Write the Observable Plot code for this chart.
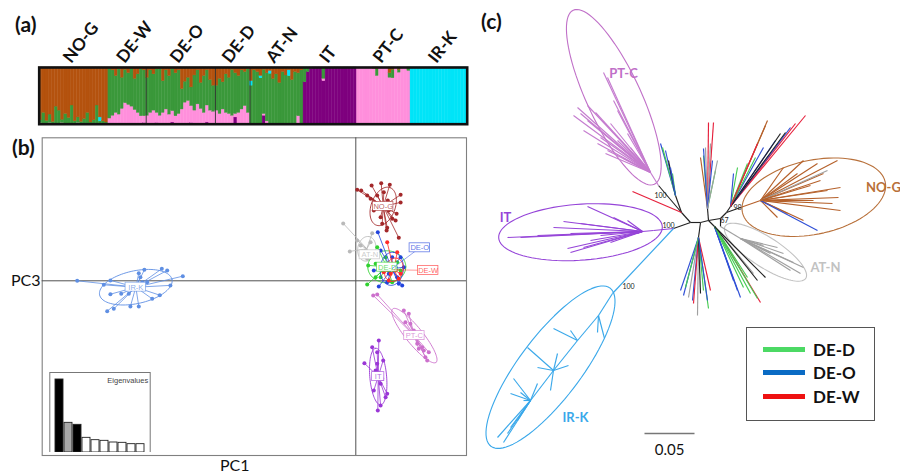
<!DOCTYPE html>
<html><head><meta charset="utf-8">
<script src="https://cdn.jsdelivr.net/npm/d3@7"></script>
<script src="https://cdn.jsdelivr.net/npm/@observablehq/plot@0.6"></script>
<style>
body{margin:0;background:#fff;font-family:Lato,"Open Sans",sans-serif;}
#fig{position:relative;width:900px;height:475px;overflow:hidden;background:#fff;}
.pl{position:absolute;}
.tag{position:absolute;font-weight:700;font-size:21px;color:#111;line-height:1;}
.ax{position:absolute;font-size:16px;color:#111;line-height:1;}
#legend{position:absolute;left:746px;top:327px;width:127px;height:92px;border:1.6px solid #555;background:#fff;}
.lrow{position:absolute;left:16px;height:20px;display:flex;align-items:center;}
.lsw{width:42px;height:5px;margin-right:8px;}
.ltx{font-weight:700;font-size:17px;color:#111;}
</style></head><body><div id="fig"></div>
<script>
// ---------------- (a) STRUCTURE-like ancestry data ----------------
const structGroups = ["NO-G","DE-W","DE-O","DE-D","AT-N","IT","PT-C","IR-K"];
const structCounts = [22,12,22,11,17,17,17,18];
const structMain   = ["brown","green","green","green","green","purple","pink","cyan"];
const clusterOrder = ["purple","pink","green","cyan","brown"]; // bottom -> top
const clusterColor = {purple:"#7e007e", pink:"#ff8fdc", green:"#3a983a", cyan:"#00e4f8", brown:"#b4520e"};

const nogGreen = [0.05,0.2,0.05,0.15,0.04,0.3,0.24,0.06,0.18,0.1,0.33,0.05,0.1,0.04,0.08,0.2,0.03,0.06,0.33,0.05,0.04,0.03];
const nogPink  = [0.02,0,0.01,0.02,0,0.01,0,0.02,0,0.01,0,0,0.02,0,0.01,0,0,0.01,0,0,0.01,0];
const nogCyan  = [0,0,0,0,0,0,0,0,0,0,0,0,0,0,0,0,0,0,0,0.07,0,0];
const dewPink  = [0.1,0.14,0.2,0.17,0.26,0.37,0.34,0.3,0.25,0.2,0.14,0.12];
const dewBrown = [0.02,0.05,0.15,0.03,0.18,0.04,0.1,0.02,0.2,0.12,0.03,0.05];
const dewPurple= [0,0.01,0,0,0.01,0,0,0.01,0,0,0,0.02];
const deoPink  = [0.15,0.2,0.24,0.18,0.15,0.2,0.26,0.17,0.2,0.14,0.18,0.26,0.38,0.41,0.3,0.24,0.35,0.27,0.2,0.3,0.24,0.22];
const deoBrown = [0.18,0.05,0.12,0.03,0.02,0.24,0.05,0.15,0.03,0.1,0.05,0.38,0.25,0.18,0.35,0.14,0.05,0.27,0.15,0.05,0.22,0.32];
const deoPurple= [0,0,0,0.02,0,0,0,0,0.03,0,0,0,0,0,0.02,0,0,0,0,0.03,0,0];
const dedPink  = [0.24,0.18,0.26,0.2,0.18,0.15,0.06,0.2,0.26,0.32,0.2];
const dedBrown = [0.32,0.2,0.26,0.12,0.18,0.04,0.1,0.15,0.05,0.08,0.03];
const dedPurple= [0,0,0,0,0,0,0.12,0,0,0,0];
const atnBrown = [0.24,0.05,0.08,0.15,0.04,0.1,0.06,0.2,0.12,0.27,0.08,0.14,0.05,0.22,0.08,0.1,0.05];
const atnCyan  = [0.08,0,0,0.04,0,0,0.05,0,0,0,0,0,0.1,0,0,0,0];
const atnPink  = [0,0,0,0,0.03,0.05,0,0,0,0,0,0,0,0,0,0.14,0];
const atnPurple= [0,0,0,0,0.15,0,0,0,0,0,0,0,0,0,0,0,0];
const itGreen  = [0.26,0.08,0.02,0,0,0,0.2,0,0,0,0,0,0,0,0,0,0];
const itPink   = [0,0,0,0,0,0,0.04,0,0,0,0,0,0,0,0,0,0];
const itBrown  = [0,0,0,0,0,0,0,0.01,0,0.01,0,0,0.01,0,0,0.01,0];
const ptcGreen = [0,0,0,0,0,0,0.12,0,0,0,0.08,0.15,0,0.05,0,0,0.06];
const ptcBrown = [0,0,0,0,0,0.02,0.03,0,0,0,0.1,0.04,0,0.04,0,0,0];

const structMinor = {
  "NO-G": {green: nogGreen, pink: nogPink, cyan: nogCyan},
  "DE-W": {pink: dewPink, brown: dewBrown, purple: dewPurple},
  "DE-O": {pink: deoPink, brown: deoBrown, purple: deoPurple},
  "DE-D": {pink: dedPink, brown: dedBrown, purple: dedPurple},
  "AT-N": {brown: atnBrown, cyan: atnCyan, pink: atnPink, purple: atnPurple},
  "IT":   {green: itGreen, pink: itPink, brown: itBrown},
  "PT-C": {green: ptcGreen, brown: ptcBrown},
  "IR-K": {}
};

// ---------------- (b) PCA data (PC1, PC3) ----------------
const pcaGroups  = ["IR-K","NO-G","AT-N","DE-D","DE-O","DE-W","PT-C","IT"];
const pcaColors  = ["#5f8fe3","#a3282a","#b9b9b9","#2fd12f","#2244dd","#ff2a2a","#cc70cc","#9a36d6"];
const pcaCenters = [[-11.0,-0.32],[1.37,3.72],[0.55,1.6],[1.55,0.7],[1.8,0.6],[1.9,0.55],[2.93,-2.74],[1.12,-4.79]];
const pcaLabelPos= [[-11.0,-0.32],[1.37,3.72],[0.7,1.3],[1.57,0.68],[3.2,1.65],[3.62,0.52],[2.93,-2.74],[1.12,-4.79]];
// ellipse: [semi-axis a, semi-axis b, angle deg]
const pcaEllipses= [[1.85,0.82,12],[1.0,0.6,70],[0.62,0.45,80],[0.95,0.8,0],[0.83,0.58,85],[0.6,0.45,70],[1.72,0.42,-51],[1.42,0.42,95]];
const pcaIRK = [[-13.93,0.0],[-12.6,-0.2],[-12.27,0.02],[-10.85,0.38],[-10.57,0.55],[-9.7,0.6],[-9.43,0.52],[-8.65,0.23],[-9.27,-0.23],[-9.8,-0.72],[-10.18,-0.9],[-10.85,-1.28],[-11.27,-1.28],[-12.1,-1.4],[-12.43,-1.52],[-12.27,-0.67],[-11.73,-0.65],[-11.35,-0.65],[-10.43,-0.07],[-10.68,-0.07],[-10.77,0.18]];
const pcaNOG = [[0.27,4.52],[0.07,4.55],[0.79,4.77],[1.27,4.88],[1.7,4.8],[2.24,4.3],[2.24,3.92],[2.04,3.35],[2.15,2.15],[1.57,2.65],[1.32,2.85],[0.74,4.1],[1.07,4.27],[1.4,4.43],[1.65,3.52],[1.82,3.1],[1.99,3.02],[0.9,3.52],[1.24,3.18],[1.54,2.52],[0.57,4.27],[1.6,4.02]];
const pcaATN = [[-0.63,2.87],[-0.3,1.47],[0.82,2.38],[0.74,1.93],[0.24,1.77],[0.49,1.52],[0.57,1.1],[0.07,2.02]];
const pcaDED = [[0.57,-0.19],[0.62,0.77],[1.07,1.68],[0.99,0.85],[1.24,0.18],[1.65,0.52],[2.07,0.93],[1.49,1.18],[0.99,0.18],[1.82,-0.07],[2.24,0.52]];
const pcaDEO = [[1.1,2.43],[1.24,1.52],[1.15,-0.29],[2.32,-0.24],[2.07,0.18],[1.82,1.18],[1.4,0.68],[2.24,1.18],[1.99,0.68],[1.65,0.35],[2.4,0.68],[1.57,-0.07],[0.9,0.52],[2.15,-0.15]];
const pcaDEW = [[1.57,1.93],[1.74,0.35],[1.99,0.52],[2.15,0.1],[1.82,0.85],[1.4,0.43],[2.24,0.35],[1.65,0.02],[2.07,1.43]];
const pcaPTC = [[0.87,-0.73],[1.07,-0.68],[2.4,-1.48],[2.65,-1.65],[2.48,-2.07],[2.9,-2.48],[3.07,-3.15],[3.32,-3.32],[3.48,-3.82],[3.65,-3.57],[3.24,-2.82],[2.73,-2.15],[3.4,-3.48],[3.15,-3.4],[3.57,-3.98]];
const pcaIT  = [[1.15,-2.98],[0.82,-3.32],[0.43,-4.12],[1.37,-3.98],[1.07,-4.15],[0.99,-4.48],[1.24,-5.15],[1.49,-5.82],[1.1,-6.48],[1.24,-6.23],[0.9,-5.48],[1.32,-4.9],[1.07,-3.57],[1.57,-5.65]];
const pcaPoints = [pcaIRK,pcaNOG,pcaATN,pcaDED,pcaDEO,pcaDEW,pcaPTC,pcaIT];
const eigenValues = [21.9,8.9,8.3,4.4,3.7,3.5,3.0,2.9,2.5,2.5];
const shownAxes = [1,3];
const retainedAxes = 3;

// ---------------- (c) tree data (branch-length units) ----------------
const treeColors = {k:"#222",a:"#a0a0a0",n:"#b5602a",p:"#c57ccf",i:"#9544d8",c:"#3aa8ea",g:"#45cc52",b:"#2f4fd6",r:"#e6203c"};
const treeNodes = {N0:[-0.010,-0.002],N1:[0.000,-0.002],N2:[0.008,0.000],N3:[0.020,0.002],N4:[0.026,0.008],ITn:[-0.027,-0.008],PTn:[-0.019,0.008]};
const treeEdges = [["N0","N1"],["N1","N2"],["N2","N3"],["N3","N4"],["N0","ITn"],["N0","PTn"]];
const itSpine  = [[-0.047,-0.010],[-0.058,-0.011]];
const itTips   = [[-0.193,-0.017],[-0.180,-0.017],[-0.137,-0.001],[-0.113,0.014],[-0.073,0.000],[-0.130,-0.013],[-0.163,-0.015],[-0.133,-0.028],[-0.117,-0.027],[-0.090,-0.022],[-0.063,-0.013],[-0.100,-0.015],[-0.147,-0.007],[-0.120,-0.003],[-0.087,0.003],[-0.130,-0.032],[-0.110,-0.020]];
const irkSpine = [[-0.088,-0.073],[-0.102,-0.095],[-0.123,-0.120],[-0.147,-0.150],[-0.170,-0.180]];
const irkTips  = [[-0.203,-0.217],[-0.197,-0.222],[-0.193,-0.213],[-0.190,-0.207],[-0.187,-0.158],[-0.173,-0.127],[-0.147,-0.108],[-0.130,-0.110],[-0.103,-0.112],[-0.096,-0.118],[-0.132,-0.145],[-0.180,-0.172],[-0.163,-0.163],[-0.150,-0.170],[-0.177,-0.180],[-0.190,-0.173],[-0.163,-0.147],[-0.143,-0.133],[-0.183,-0.200]];
const ptcSpine = [[-0.042,0.035],[-0.050,0.048]];
const ptcTips  = [[-0.097,0.148],[-0.093,0.143],[-0.087,0.120],[-0.083,0.110],[-0.113,0.115],[-0.123,0.113],[-0.120,0.107],[-0.113,0.100],[-0.090,0.097],[-0.100,0.083],[-0.073,0.087],[-0.063,0.063],[-0.070,0.073],[-0.117,0.090],[-0.093,0.070],[-0.077,0.062],[-0.103,0.077],[-0.127,0.105],[-0.083,0.080],[-0.095,0.067],[-0.105,0.108]];
const nogSpine = [[0.040,0.013],[0.060,0.020]];
const nogTips  = [[0.103,0.060,"n"],[0.117,0.057,"n"],[0.137,0.060,"n"],[0.140,0.033,"n"],[0.138,0.023,"n"],[0.140,0.010,"n"],[0.103,0.000,"n"],[0.090,0.020,"n"],[0.097,0.047,"n"],[0.123,0.047,"n"],[0.127,0.030,"n"],[0.113,0.020,"n"],[0.087,0.007,"n"],[0.132,0.017,"n"],[0.083,0.053,"n"],[0.077,0.003,"n"],[0.117,-0.010,"b"],[0.127,0.050,"a"],[0.120,0.040,"n"],[0.110,0.035,"n"]];
const atnSpine = [[0.020,-0.006],[0.040,-0.018]];
const atnTips  = [[0.103,-0.047],[0.093,-0.042],[0.083,-0.033],[0.077,-0.027],[0.070,-0.033],[0.090,-0.050],[0.063,-0.025],[0.100,-0.053]];
const mixLeftTips = [[-0.040,0.077,"b"],[-0.038,0.073,"g"],[-0.035,0.070,"b"],[-0.032,0.060,"k"],[-0.028,0.047,"g"],[-0.030,0.053,"b"]];
const mixUpTips   = [[0.008,0.098,"r"],[0.013,0.098,"r"],[0.003,0.065,"g"],[0.000,0.063,"n"],[0.005,0.073,"a"],[0.010,0.077,"a"],[0.015,0.050,"g"],[0.012,0.060,"b"],[0.003,0.072,"b"],[0.017,0.060,"a"]];
const mixNETips   = [[0.067,0.100,"n"],[0.065,0.095,"n"],[0.105,0.105,"r"],[0.095,0.097,"r"],[0.090,0.093,"b"],[0.085,0.088,"k"],[0.075,0.080,"b"],[0.063,0.073,"b"],[0.055,0.063,"g"],[0.047,0.057,"g"],[0.037,0.053,"g"],[0.033,0.047,"b"],[0.080,0.087,"k"],[0.057,0.077,"r"]];
const mixDownTips = [[-0.020,-0.070,"b"],[-0.017,-0.075,"b"],[-0.012,-0.077,"a"],[-0.008,-0.080,"b"],[-0.003,-0.095,"a"],[-0.007,-0.083,"r"],[0.008,-0.088,"g"],[0.010,-0.070,"r"],[0.003,-0.070,"g"],[0.000,-0.073,"k"],[-0.015,-0.067,"g"],[0.007,-0.080,"b"]];
const mixSETips   = [[0.060,-0.082,"r"],[0.057,-0.078,"g"],[0.050,-0.073,"g"],[0.040,-0.077,"b"],[0.037,-0.070,"b"],[0.043,-0.067,"g"],[0.033,-0.060,"b"],[0.053,-0.053,"a"],[0.057,-0.060,"k"],[0.047,-0.057,"g"],[0.065,-0.057,"k"]];
const treeClades = [
  {from:"ITn", stem:"i", color:"i", spine:itSpine, tips:itTips},
  {from:"ITn", stem:"c", color:"c", spine:irkSpine, tips:irkTips},
  {from:"PTn", stem:"k", color:"p", spine:ptcSpine, tips:ptcTips},
  {from:"PTn", stem:"k", color:"k", spine:[[-0.025,0.025]], tips:mixLeftTips},
  {from:"PTn", stem:"r", color:"r", spine:[[-0.068,0.029]], tips:[]},
  {from:"N1",  stem:"k", color:"k", spine:[[-0.002,-0.017]], tips:mixDownTips},
  {from:"N2",  stem:"k", color:"k", spine:[[0.007,0.012]], tips:mixUpTips},
  {from:"N2",  stem:"k", color:"k", spine:[[0.014,-0.006]], tips:mixSETips},
  {from:"N3",  stem:"k", color:"a", spine:atnSpine, tips:atnTips},
  {from:"N4",  stem:"k", color:"k", spine:[[0.030,0.014]], tips:mixNETips},
  {from:"N4",  stem:"k", color:"n", spine:nogSpine, tips:nogTips}
];
const cladeNames  = ["PT-C","IT","IR-K","NO-G","AT-N"];
const cladeColors = ["#c070c8","#9544d8","#3aa8ea","#b8703a","#c2c2c2"];
const cladeLabelPos = [[-0.077,0.147],[-0.195,0.003],[-0.125,-0.197],[0.183,0.033],[0.125,-0.047]];
const cladeEllipses = [[-0.0867,0.1233,0.096,0.027,-65],[-0.120,-0.0117,0.082,0.028,4],[-0.150,-0.1467,0.099,0.031,53],[0.1133,0.0233,0.073,0.037,12],[0.065,-0.0317,0.048,0.015,-33]];
const bootValues = ["100","100","100","67","98"];
const bootPos = [[-0.040,0.025],[-0.032,-0.005],[-0.072,-0.066],[0.024,0.000],[0.037,0.013]];
const scaleBarLength = 0.05;
const legendNames  = ["DE-D","DE-O","DE-W"];
const legendColors = ["#4cd964","#0a6bc4","#ee1111"];

// ---------------- helpers ----------------
const FONT = "Lato, 'Open Sans', sans-serif";
function ellipse(cx, cy, a, b, deg) {
  const t = deg * Math.PI / 180;
  return d3.range(0, 361, 4).map(k => {
    const u = k * Math.PI / 180;
    return [cx + a*Math.cos(u)*Math.cos(t) - b*Math.sin(u)*Math.sin(t),
            cy + a*Math.cos(u)*Math.sin(t) + b*Math.sin(u)*Math.cos(t)];
  });
}
const fig = document.getElementById("fig");
function place(node, left, top) { node.classList.add("pl"); node.style.left = left+"px"; node.style.top = top+"px"; fig.appendChild(node); }
function html(cls, text, left, top, extra) { const d = document.createElement("div"); d.className = cls; d.textContent = text; d.style.left = left+"px"; d.style.top = top+"px"; if (extra) Object.assign(d.style, extra); fig.appendChild(d); return d; }

// ---------------- panel (a) ----------------
const rowsA = [];
const groupMid = [];
const boundaries = [];
let idx = 0;
structGroups.forEach((g, gi) => {
  const minor = structMinor[g];
  const start = idx;
  for (let i = 0; i < structCounts[gi]; i++) {
    const vals = {}; let sum = 0;
    for (const c of clusterOrder) if (c !== structMain[gi]) { vals[c] = (minor[c] ? minor[c][i] : 0) || 0; sum += vals[c]; }
    vals[structMain[gi]] = 1 - sum;
    let y = 0;
    for (const c of clusterOrder) { const v = vals[c]; if (v > 0) rowsA.push({x1: idx, x2: idx + 1, y1: y, y2: y + v, fill: clusterColor[c]}); y += v; }
    idx++;
  }
  groupMid.push({name: g, x: (start + idx) / 2});
  if (gi > 0 && structMain[gi] === structMain[gi-1]) boundaries.push(start);
});
const plotA = Plot.plot({
  width: 480, height: 128, marginLeft: 38.7, marginRight: 13.3, marginTop: 67, marginBottom: 4.3,
  x: {domain: [0, idx], axis: null}, y: {domain: [0, 1], axis: null}, color: {type: "identity"},
  style: {fontFamily: FONT, background: "transparent", overflow: "visible"},
  marks: [
    Plot.rect(rowsA, {x1: "x1", x2: "x2", y1: "y1", y2: "y2", fill: "fill", stroke: "fill", strokeWidth: 0.4}),
    Plot.ruleX(boundaries, {stroke: "#333", strokeWidth: 0.9}),
    Plot.frame({stroke: "#111", strokeWidth: 2.6}),
    Plot.text(groupMid, {x: "x", text: "name", frameAnchor: "top", dy: -11, dx: -12, rotate: -52, textAnchor: "start", fontSize: 17, fontWeight: 700, fill: "#111"})
  ]
});
place(plotA, 0, 0);

// ---------------- panel (b) ----------------
const marksB = [Plot.frame({stroke: "#808080", strokeWidth: 1.1}), Plot.ruleX([0], {stroke: "#505050", strokeWidth: 1}), Plot.ruleY([0], {stroke: "#505050", strokeWidth: 1})];
pcaGroups.forEach((g, gi) => {
  const col = pcaColors[gi];
  const [cx, cy] = pcaCenters[gi];
  const [a, b, ang] = pcaEllipses[gi];
  const pts = pcaPoints[gi];
  marksB.push(Plot.line(ellipse(cx, cy, a, b, ang), {x: d => d[0], y: d => d[1], stroke: col, strokeWidth: 0.9}));
  marksB.push(Plot.link(pts, {x1: () => cx, y1: () => cy, x2: d => d[0], y2: d => d[1], stroke: col, strokeWidth: 0.8}));
  marksB.push(Plot.dot(pts, {x: d => d[0], y: d => d[1], r: 2, fill: col, stroke: "none"}));
});
pcaGroups.forEach((g, gi) => {
  const col = pcaColors[gi];
  const [lx, ly] = pcaLabelPos[gi];
  const [cx, cy] = pcaCenters[gi];
  if (lx !== cx || ly !== cy) marksB.push(Plot.link([0], {x1: () => cx, y1: () => cy, x2: () => lx, y2: () => ly, stroke: col, strokeOpacity: 0.6, strokeWidth: 0.8}));
  const hw = (g.length * 4.1 + 4) / 2 / 20, hh = 4.5 / 20;
  marksB.push(Plot.rect([0], {x1: () => lx - hw, x2: () => lx + hw, y1: () => ly - hh, y2: () => ly + hh, fill: "white", stroke: col, strokeOpacity: 0.7, strokeWidth: 0.8}));
  marksB.push(Plot.text([g], {x: () => lx, y: () => ly, text: d => d, fill: col, fillOpacity: 0.75, fontSize: 7.5}));
});
const plotB = Plot.plot({
  width: 475, height: 345, marginLeft: 41.7, marginRight: 9, marginTop: 7.3, marginBottom: 20,
  x: {domain: [-15.68, 5.535], axis: null}, y: {domain: [-8.735, 7.15], axis: null},
  style: {fontFamily: "Arial, 'Liberation Sans', sans-serif", background: "transparent"},
  marks: marksB
});
place(plotB, 0, 130);

// eigenvalue inset
const eig = eigenValues.map((v, i) => ({axis: i + 1, v, fill: shownAxes.includes(i + 1) ? "#000" : (i < retainedAxes ? "#a8a8a8" : "#fff")}));
const plotE = Plot.plot({
  width: 107, height: 80, marginLeft: 3.3, marginRight: 3.3, marginTop: 0, marginBottom: 0,
  x: {type: "band", domain: eig.map(d => d.axis), padding: 0.12, align: 0.5, axis: null},
  y: {domain: [0, 24], axis: null}, color: {type: "identity"},
  style: {fontFamily: "Arial, 'Liberation Sans', sans-serif", background: "#fff"},
  marks: [
    Plot.barY(eig, {x: "axis", y: "v", fill: "fill", stroke: "#222", strokeWidth: 0.9}),
    Plot.frame({stroke: "#777", strokeWidth: 1}),
    Plot.text(["Eigenvalues"], {frameAnchor: "top-right", dx: -2, dy: 5, text: d => d, fontSize: 7.5, fill: "#444"})
  ]
});
place(plotE, 45.7, 372.3);

// ---------------- panel (c) ----------------
const edgesC = [];
const pushEdge = (p, q, c) => edgesC.push({x1: p[0], y1: p[1], x2: q[0], y2: q[1], stroke: treeColors[c]});
for (const [a, b] of treeEdges) pushEdge(treeNodes[a], treeNodes[b], "k");
for (const cl of treeClades) {
  pushEdge(treeNodes[cl.from], cl.spine[0], cl.stem);
  for (let i = 1; i < cl.spine.length; i++) pushEdge(cl.spine[i-1], cl.spine[i], cl.color);
  for (const t of cl.tips) {
    let best = cl.spine[0], bd = Infinity;
    for (const s of cl.spine) { const d = Math.hypot(s[0]-t[0], s[1]-t[1]); if (d < bd) { bd = d; best = s; } }
    pushEdge(best, t, t[2] || cl.color);
  }
}
const marksC = [];
cladeEllipses.forEach((e, i) => marksC.push(Plot.line(ellipse(...e), {x: d => d[0], y: d => d[1], stroke: cladeColors[i], strokeWidth: 1.1})));
marksC.push(Plot.link(edgesC, {x1: "x1", y1: "y1", x2: "x2", y2: "y2", stroke: "stroke", strokeWidth: 1.15}));
marksC.push(Plot.text(cladeNames, {x: (d, i) => cladeLabelPos[i][0], y: (d, i) => cladeLabelPos[i][1], text: d => d, fill: (d, i) => cladeColors[i], fontSize: 13, fontWeight: 700}));
marksC.push(Plot.text(bootValues, {x: (d, i) => bootPos[i][0], y: (d, i) => bootPos[i][1], text: d => d, fill: "#222", fontSize: 7}));
const sbX = -0.056, sbY = -0.213;
marksC.push(Plot.link([scaleBarLength], {x1: () => sbX, x2: d => sbX + d, y1: () => sbY, y2: () => sbY, stroke: "#777", strokeWidth: 1.3}));
marksC.push(Plot.text([scaleBarLength], {x: d => sbX + d / 2, y: () => sbY, dy: 17, text: d => d.toFixed(2), fontSize: 15, fill: "#111"}));
const plotC = Plot.plot({
  width: 430, height: 475, margin: 0,
  x: {domain: [-0.230, 0.200], axis: null}, y: {domain: [-0.255, 0.220], axis: null}, color: {type: "identity"},
  style: {fontFamily: FONT, background: "transparent"},
  marks: marksC
});
place(plotC, 470, 0);

// legend
const leg = document.createElement("div"); leg.id = "legend";
legendNames.forEach((n, i) => {
  const r = document.createElement("div"); r.className = "lrow"; r.style.top = (11 + i * 23.5) + "px";
  const sw = document.createElement("div"); sw.className = "lsw"; sw.style.background = legendColors[i];
  const tx = document.createElement("div"); tx.className = "ltx"; tx.textContent = n;
  r.appendChild(sw); r.appendChild(tx); leg.appendChild(r);
});
fig.appendChild(leg);

// panel tags and axis titles
html("tag", "(a)", 15, 13);
html("tag", "(b)", 12, 136);
html("tag", "(c)", 481, 10);
html("ax", "PC3", 11, 272);
html("ax", "PC1", 220, 457);
</script></body></html>
